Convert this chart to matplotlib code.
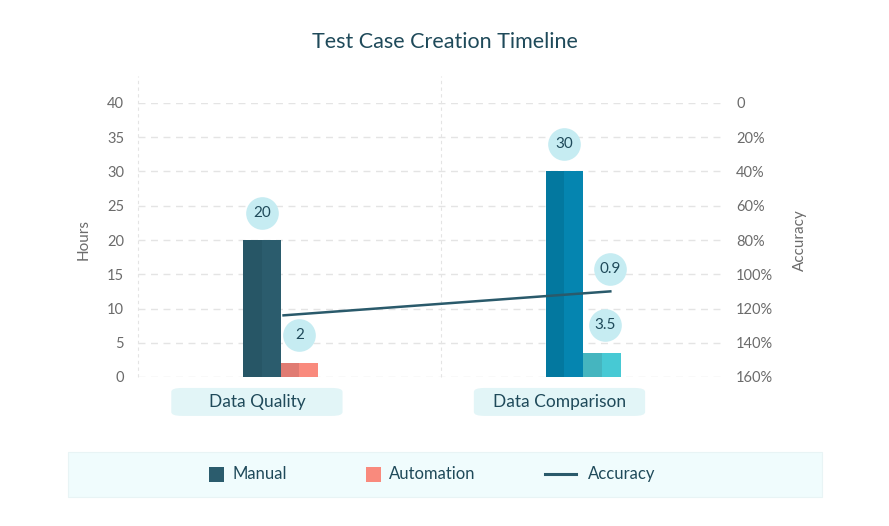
import numpy as np
import matplotlib.pyplot as plt
from matplotlib.patches import FancyBboxPatch, Rectangle
from matplotlib.lines import Line2D
from matplotlib.transforms import offset_copy, blended_transform_factory

plt.rcParams['font.family'] = ['Lato', 'DejaVu Sans']

categories = ["Data Quality", "Data Comparison"]
manual = [20, 30]
automation = [2, 3.5]
accuracy = [1.24, 1.10]          # read against the inverted right axis
accuracy_text = ["", "0.9"]

C_MANUAL = [("#275666", "#2b5c6d"), ("#03789f", "#0585b0")]
C_AUTO = [("#e07b72", "#f98a7d"), ("#45b5bf", "#47c9d4")]
C_LINE = "#2a5a6b"
C_BADGE = "#c6ecf2"
C_TEXT = "#1f4a5a"
C_TICK = "#6b6b6b"
C_GRID = "#e4e4e4"

W, H = 889, 526
fig = plt.figure(figsize=(W / 100, H / 100), dpi=100)
ax = fig.add_axes([138 / W, 1 - 377 / H, 587 / W, 274 / H])
ax2 = ax.twinx()

x = np.arange(len(categories))
half = 0.062

for i in x:
    ax.bar(i - 1.5 * half, manual[i], half, color=C_MANUAL[i][0], zorder=3)
    ax.bar(i - 0.5 * half, manual[i], half, color=C_MANUAL[i][1], zorder=3)
    ax.bar(i + 0.5 * half, automation[i], half, color=C_AUTO[i][0], zorder=3)
    ax.bar(i + 1.5 * half, automation[i], half, color=C_AUTO[i][1], zorder=3)


def badge(axis, xv, yv, txt, dy, dx=0):
    tr = offset_copy(axis.transData, fig=fig, x=dx, y=dy, units='dots')
    axis.plot([xv], [yv], 'o', ms=23.5, color=C_BADGE, mec='none',
              transform=tr, zorder=6, clip_on=False)
    axis.text(xv, yv, txt, transform=tr, ha='center', va='center',
              fontsize=11, color=C_TEXT, zorder=7)


for i in x:
    badge(ax, i - half, manual[i], f"{manual[i]:g}", 27)
    badge(ax, i + half, automation[i], f"{automation[i]:g}", 28, dx=3 * i)

ax.set_xlim(-0.471, 1.469)
ax.set_ylim(0, 40)
ax.set_yticks(np.arange(0, 41, 5))
ax.tick_params(length=0, labelsize=10.5, colors=C_TICK, pad=10)
ax.grid(axis='y', color=C_GRID, ls=(0, (5, 4)), lw=1, zorder=0)
for s in ax.spines.values():
    s.set_visible(False)

# vertical dashed separators
for xv in [-0.471, 0.53]:
    ax.plot([xv, xv], [0, 44], color=C_GRID, ls=(0, (3, 3)), lw=0.8,
            clip_on=False, zorder=0)

# category labels in rounded boxes
lab_x = x - 0.078
ax.set_xticks(lab_x)
ax.set_xticklabels([])
tr = blended_transform_factory(ax.transData, ax.transAxes)
for lx, name in zip(lab_x, categories):
    ax.add_patch(FancyBboxPatch((lx - 0.283, -0.142), 0.566, 0.102,
                                boxstyle="round,pad=0,rounding_size=0.035",
                                transform=tr, fc="#e2f5f7", ec='none',
                                clip_on=False, mutation_aspect=0.4))
    ax.text(lx, -0.091, name, transform=tr, ha='center', va='center',
            fontsize=12.5, color=C_TEXT)

ax.set_ylabel("Hours", color=C_TICK, fontsize=11, labelpad=12)

# accuracy line on inverted right axis
acc_x = x * 1.08 + 0.01
ax2.plot(acc_x, accuracy, color=C_LINE, lw=1.8, zorder=5)
for xv, yv, t in zip(acc_x, accuracy, accuracy_text):
    if t:
        badge(ax2, xv, yv, t, 22)
ax2.set_ylim(1.6, 0)
ticks = np.arange(0, 1.61, 0.2)
ax2.set_yticks(ticks)
ax2.set_yticklabels(["0"] + [f"{v * 100:.0f}%" for v in ticks[1:]])
ax2.tick_params(length=0, labelsize=10.5, colors=C_TICK, pad=8)
ax2.set_ylabel("Accuracy", color=C_TICK, fontsize=11, labelpad=14)
for s in ax2.spines.values():
    s.set_visible(False)

fig.text(445 / W, 1 - 42 / H, "Test Case Creation Timeline", ha='center',
         va='center', fontsize=15.5, color=C_TEXT)

# legend panel, laid out by hand in pixel positions
fig.patches.append(Rectangle((68 / W, 1 - 497 / H), 754 / W, 45 / H,
                             transform=fig.transFigure, fc="#f0fcfd",
                             ec="#e8f4f5", lw=0.8, zorder=0))
ly = 1 - 474 / H
sq = 15
for x0, col, label in [(209, C_MANUAL[0][1], "Manual"),
                       (366, "#f98a7d", "Automation")]:
    fig.patches.append(Rectangle((x0 / W, ly - sq / 2 / H), sq / W, sq / H,
                                 transform=fig.transFigure, fc=col, ec='none'))
    fig.text((x0 + sq + 8) / W, ly, label, ha='left', va='center',
             fontsize=12, color=C_TEXT)
fig.lines.append(Line2D([545 / W, 576 / W], [ly, ly], color=C_LINE, lw=2.2,
                        transform=fig.transFigure))
fig.text(588 / W, ly, "Accuracy", ha='left', va='center', fontsize=12,
         color=C_TEXT)

fig.savefig("out.png", dpi=100)
